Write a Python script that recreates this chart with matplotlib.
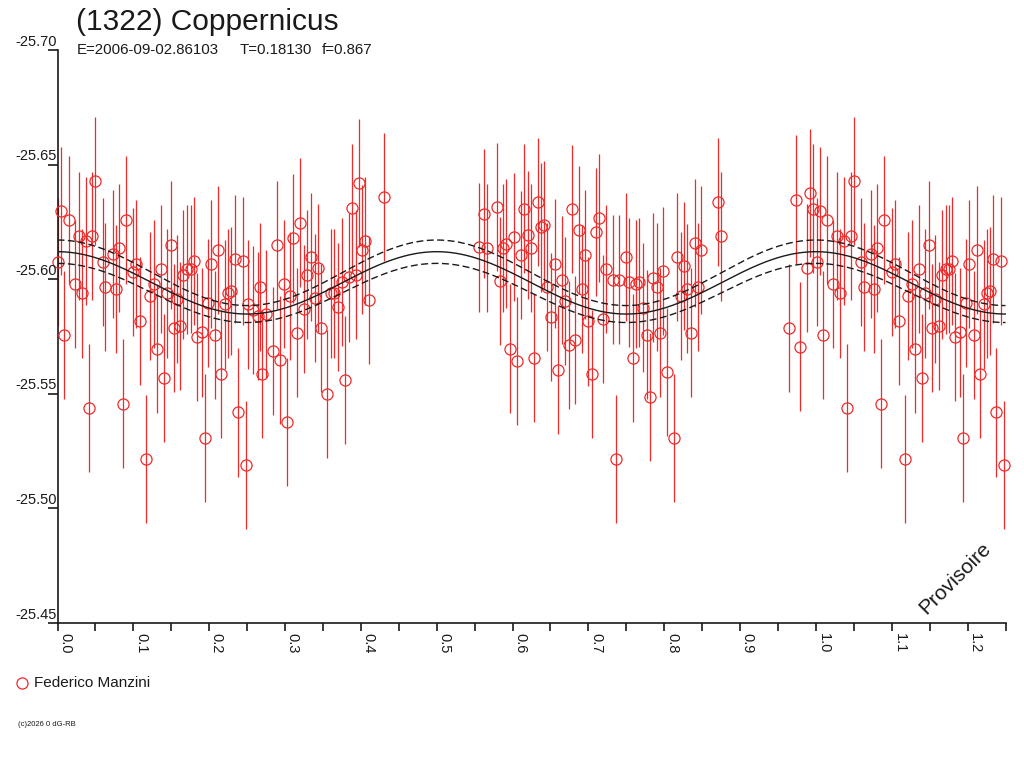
import numpy as np
import matplotlib
matplotlib.use("Agg")
import matplotlib.pyplot as plt
from matplotlib.lines import Line2D

plt.rcParams['font.family'] = ['Liberation Sans', 'DejaVu Sans']

# ---- data: folded lightcurve (phase, reduced magnitude) ----
phase = [
    0.001, 0.005, 0.009, 0.015, 0.023, 0.028, 0.032, 0.037, 0.041, 0.046,
    0.050, 0.060, 0.063, 0.073, 0.077, 0.081, 0.086, 0.090, 0.100, 0.104,
    0.109, 0.117, 0.122, 0.127, 0.131, 0.136, 0.140, 0.144, 0.149, 0.153,
    0.157, 0.162, 0.166, 0.171, 0.176, 0.180, 0.184, 0.190, 0.194, 0.198,
    0.202, 0.208, 0.212, 0.216, 0.221, 0.225, 0.229, 0.234, 0.238, 0.244,
    0.248, 0.251, 0.258, 0.264, 0.267, 0.270, 0.275, 0.284, 0.289, 0.293,
    0.298, 0.303, 0.307, 0.311, 0.316, 0.320, 0.325, 0.329, 0.334, 0.339,
    0.343, 0.347, 0.356, 0.361, 0.365, 0.370, 0.375, 0.379, 0.384, 0.388,
    0.393, 0.398, 0.402, 0.406, 0.411, 0.430,
    0.556, 0.562, 0.566, 0.579, 0.584, 0.588, 0.592, 0.597, 0.602, 0.606,
    0.611, 0.615, 0.620, 0.624, 0.628, 0.633, 0.638, 0.642, 0.646, 0.651,
    0.656, 0.660, 0.665, 0.669, 0.674, 0.678, 0.683, 0.687, 0.691, 0.696,
    0.700, 0.705, 0.710, 0.714, 0.719, 0.723, 0.732, 0.736, 0.741, 0.749,
    0.754, 0.759, 0.763, 0.767, 0.772, 0.777, 0.781, 0.785, 0.790, 0.794,
    0.798, 0.804, 0.813, 0.817, 0.822, 0.826, 0.830, 0.835, 0.840, 0.844,
    0.849, 0.871, 0.875, 0.965, 0.974, 0.979, 0.988, 0.992, 0.996,
]
mag = [
    -25.6076, -25.6298, -25.5757, -25.6258, -25.5979, -25.6188, -25.5938, -25.6168, -25.5437, -25.6188,
    -25.6428, -25.6076, -25.5967, -25.6109, -25.5957, -25.6137, -25.5457, -25.6258, -25.6030, -25.6066,
    -25.5818, -25.5216, -25.5928, -25.5980, -25.5697, -25.6045, -25.5569, -25.5938, -25.6148, -25.5787,
    -25.5915, -25.5797, -25.6020, -25.6043, -25.6045, -25.6078, -25.5748, -25.5768, -25.5307, -25.5897,
    -25.6066, -25.5757, -25.6127, -25.5586, -25.5890, -25.5938, -25.5948, -25.6088, -25.5419, -25.6078,
    -25.5188, -25.5890, -25.5866, -25.5839, -25.5967, -25.5586, -25.5848, -25.5688, -25.6149, -25.5647,
    -25.5979, -25.5377, -25.5928, -25.6178, -25.5767, -25.6247, -25.5869, -25.6020, -25.6098, -25.5919,
    -25.6048, -25.5788, -25.5498, -25.5938, -25.5938, -25.5879, -25.5989, -25.5559, -25.6008, -25.6309,
    -25.6020, -25.6420, -25.6129, -25.6168, -25.5908, -25.6359,
    -25.6139, -25.6286, -25.6136, -25.6315, -25.5993, -25.6136, -25.6155, -25.5697, -25.6185, -25.5644,
    -25.6106, -25.6308, -25.6194, -25.6136, -25.5656, -25.6337, -25.6226, -25.6236, -25.5966, -25.5836,
    -25.6068, -25.5605, -25.5997, -25.5906, -25.5714, -25.6306, -25.5736, -25.6215, -25.5957, -25.6107,
    -25.5816, -25.5586, -25.6206, -25.6267, -25.5826, -25.6045, -25.5998, -25.5216, -25.5998, -25.6097,
    -25.5986, -25.5656, -25.5979, -25.5986, -25.5876, -25.5758, -25.5486, -25.6007, -25.5967, -25.5767,
    -25.6036, -25.5596, -25.5306, -25.6097, -25.5927, -25.6058, -25.5959, -25.5767, -25.6157, -25.5967,
    -25.6127, -25.6337, -25.6187, -25.5786, -25.6347, -25.5706, -25.6048, -25.6377, -25.6308,
]
mag_err = 0.028

# fitted lightcurve (2nd harmonic) and its uncertainty envelope
fit_mean = -25.5984
fit_amp = 0.0136
fit_phase0 = 0.0
env_offset = 0.0044
env_amp = 0.0007

PHASE_MAX = 1.25
title = "(1322) Coppernicus"
info = ["E=2006-09-02.86103", "T=0.18130", "f=0.867"]
observer = "Federico Manzini"

# ---- fold: repeat the start of the cycle past phase 1 ----
ph = np.array(phase)
mg = np.array(mag)
extra = ph + 1 <= PHASE_MAX
x_all = np.concatenate([ph, ph[extra] + 1])
y_all = np.concatenate([mg, mg[extra]])

xf = np.linspace(0, PHASE_MAX, 600)
wave = np.cos(4 * np.pi * (xf - fit_phase0))
fit = fit_mean - fit_amp * wave
upper = fit_mean - env_offset - (fit_amp + env_amp) * wave
lower = fit_mean + env_offset - (fit_amp - env_amp) * wave

red = '#ee2a2a'
ink = '#1a1a1a'

fig = plt.figure(figsize=(10.24, 7.68), dpi=100)
ax = fig.add_axes([57.5 / 1024, 1 - 623 / 768, 948 / 1024, 573 / 768])

ax.vlines(x_all, y_all - mag_err, y_all + mag_err, color=red, lw=0.9, zorder=2, clip_on=False)
ax.plot(x_all, y_all, 'o', ms=8, mfc='none', mec=red, mew=0.9, zorder=3, clip_on=False)

ax.plot(xf, fit, color=ink, lw=1.0, zorder=4)
ax.plot(xf, upper, color=ink, lw=1.0, ls=(0, (5, 2.5)), zorder=4)
ax.plot(xf, lower, color=ink, lw=1.0, ls=(0, (5, 2.5)), zorder=4)

ax.set_xlim(0, PHASE_MAX)
ax.set_ylim(-25.45, -25.70)

for s in ['top', 'right']:
    ax.spines[s].set_visible(False)
for s in ['left', 'bottom']:
    ax.spines[s].set_color(ink)
    ax.spines[s].set_linewidth(1.2)

yt = [-25.70, -25.65, -25.60, -25.55, -25.50, -25.45]
ax.set_yticks(yt)
ax.set_yticklabels([])
ax.set_xticks(np.round(np.arange(0, PHASE_MAX + 0.001, 0.05), 2))
ax.set_xticklabels([])
ax.tick_params(axis='y', length=7, width=1.2, color=ink, direction='out')
ax.tick_params(axis='x', length=6, width=1.2, color=ink, direction='out')

for v in yt:
    ax.annotate(f"{v:.2f}", xy=(0, v), xycoords=('axes fraction', 'data'),
                xytext=(-0.5, 1), textcoords='offset points',
                ha='right', va='bottom', fontsize=10.5, color=ink, annotation_clip=False)
for v in np.arange(0, 1.21, 0.1):
    ax.annotate(f"{v:.1f}", xy=(v, 0), xycoords=('data', 'axes fraction'),
                xytext=(0.5, -7), textcoords='offset points', rotation=270,
                ha='left', va='top', fontsize=10.5, color=ink, annotation_clip=False)

fig.text(76 / 1024, 1 - 30.5 / 768, title, fontsize=21.5, color=ink, va='baseline')
for txt, xp in zip(info, [76.5, 240, 321.5]):
    fig.text(xp / 1024, 1 - 54 / 768, txt, fontsize=10.8, color=ink, va='baseline')

fig.add_artist(Line2D([22 / 1024], [1 - 683 / 768], marker='o', ms=8, mfc='none',
                      mec=red, mew=0.9, transform=fig.transFigure))
fig.text(34 / 1024, 1 - 683 / 768, observer, fontsize=11, color=ink, va='center')
fig.text(18 / 1024, 1 - 725 / 768, "(c)2026 0 dG-RB", fontsize=5.5, color=ink, va='center')
fig.text(955 / 1024, 1 - 578 / 768, "Provisoire", fontsize=15, color=ink,
         rotation=45, ha='center', va='center')

fig.savefig('out.png', dpi=100, facecolor='white')
